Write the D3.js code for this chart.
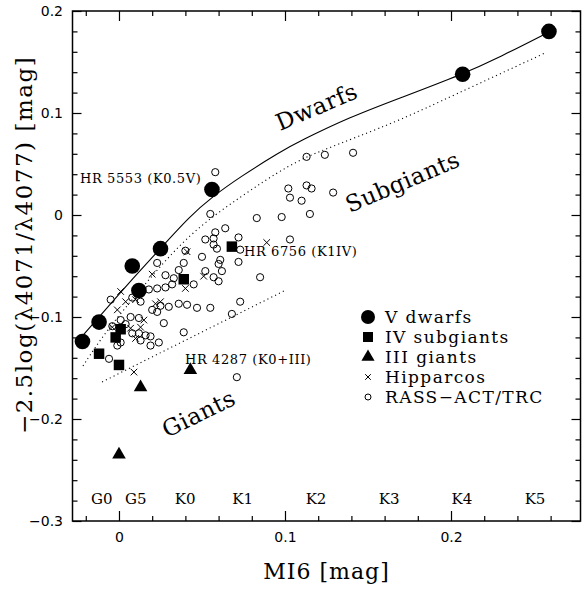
<!DOCTYPE html>
<html><head><meta charset="utf-8">
<script src="https://cdn.jsdelivr.net/npm/d3@7"></script>
<style>body{margin:0;background:#fff}svg{display:block}</style>
</head><body><svg id="c" width="582" height="590"></svg>
<script>
// ---- data ----
const dwarfX = [-0.022, -0.012, 0.008, 0.012, 0.025, 0.056, 0.207, 0.259];
const dwarfY = [-0.124, -0.105, -0.050, -0.074, -0.033, 0.025, 0.138, 0.180];
const subgiantX = [0.068, 0.039, 0.001, -0.002, -0.012, 0.000];
const subgiantY = [-0.031, -0.063, -0.112, -0.120, -0.136, -0.147];
const giantX = [0.043, 0.013, 0.000];
const giantY = [-0.152, -0.169, -0.235];
const hipX = [0.089, 0.020, 0.041, 0.051, 0.040, 0.025, 0.022, 0.001, 0.004, -0.001, 0.010, 0.015, 0.007, 0.010, 0.009, 0.013, -0.004];
const hipY = [-0.027, -0.058, -0.036, -0.060, -0.072, -0.085, -0.087, -0.075, -0.085, -0.093, -0.083, -0.103, -0.111, -0.121, -0.154, -0.110, -0.110];
const rassX = [0.058, 0.113, 0.124, 0.141, 0.102, 0.113, 0.116, 0.103, 0.110, 0.115, 0.129, 0.098, 0.083, 0.103, 0.085, 0.071, 0.073, 0.068, 0.072, 0.073,
  0.055, 0.064, 0.058, 0.052, 0.057, 0.057, 0.059, 0.040, 0.050, 0.023, 0.039, 0.061, 0.060, 0.072, 0.052, 0.062, 0.036, 0.057, 0.060, 0.028,
  0.033, 0.032, 0.028, 0.023, 0.018, -0.005, 0.008, 0.013, 0.025, 0.020, 0.030, 0.036, 0.041, 0.047, 0.055, 0.007, 0.001, 0.012, 0.004, -0.004,
  0.027, 0.008, 0.012, 0.016, 0.019, 0.013, 0.019, -0.001, 0.001, 0.024, 0.039, -0.006, 0.045, 0.023];
const rassY = [0.042, 0.057, 0.059, 0.061, 0.026, 0.029, 0.026, 0.017, 0.014, 0.001, 0.022, -0.002, -0.003, -0.024, -0.061, -0.159, -0.085, -0.097, -0.022, -0.034,
  0.001, -0.013, -0.017, -0.024, -0.023, -0.029, -0.033, -0.035, -0.041, -0.047, -0.047, -0.044, -0.048, -0.046, -0.055, -0.055, -0.054, -0.061, -0.065, -0.059,
  -0.062, -0.068, -0.071, -0.072, -0.073, -0.083, -0.081, -0.085, -0.089, -0.093, -0.090, -0.087, -0.088, -0.091, -0.091, -0.100, -0.103, -0.101, -0.107, -0.109,
  -0.106, -0.116, -0.116, -0.118, -0.119, -0.123, -0.128, -0.128, -0.125, -0.125, -0.115, -0.141, -0.068, -0.095];
// dwarf sequence (solid), subgiant boundary (dotted), giant boundary (dotted)
const dwarfLineX = [-0.0253, -0.0120, 0.0048, 0.0247, 0.0428, 0.0560, 0.0729, 0.0970, 0.1090, 0.1392, 0.1693, 0.2072, 0.2295, 0.2590];
const dwarfLineY = [-0.1245, -0.1000, -0.0686, -0.0333, -0.0010, 0.0176, 0.0373, 0.0618, 0.0725, 0.0961, 0.1147, 0.1382, 0.1549, 0.1794];
const subLineX = [-0.0217, -0.0078, 0.0127, 0.0416, 0.0729, 0.1030, 0.1229, 0.1434, 0.1693, 0.1994, 0.2566];
const subLineY = [-0.1480, -0.1137, -0.0735, -0.0186, 0.0176, 0.0500, 0.0637, 0.0765, 0.0931, 0.1157, 0.1588];
const giantLineX = [-0.0102, 0.1006];
const giantLineY = [-0.1637, -0.0735];
// spectral type labels
const specNames = ["G0", "G5", "K0", "K1", "K2", "K3", "K4", "K5"];
const specMI6 = [-0.0104, 0.0101, 0.0398, 0.0745, 0.1187, 0.1627, 0.2066, 0.2506];
// ticks
const xMajor = [0, 0.1, 0.2];
const yMajor = [-0.3, -0.2, -0.1, 0, 0.1, 0.2];
const legendLabels = ["V dwarfs", "IV subgiants", "III giants", "Hipparcos", "RASS\u2212ACT/TRC"];

// ---- chart ----
const svg = d3.select("#c");
const L = 72.5, R = 580.5, T = 11, B = 521;
const x = d3.scaleLinear().domain([-0.028, 0.278]).range([L, R]);
const y = d3.scaleLinear().domain([-0.3, 0.2]).range([B, T]);
const serif = "'DejaVu Serif', serif";
const sans = "'DejaVu Sans', sans-serif";
const fmt = v => Math.abs(v) < 1e-9 ? "0" : (v < 0 ? "\u2212" : "") + Math.abs(v).toFixed(1);
const xMinor = d3.range(-0.02, 0.2801, 0.02).filter(v => xMajor.every(m => Math.abs(m - v) > 1e-6));
const yMinor = d3.range(-0.3, 0.2001, 0.02).filter(v => yMajor.every(m => Math.abs(m - v) > 1e-6));

function ax(gen, tr, vals, size, labels) {
  const g = svg.append("g").attr("transform", tr)
    .call(gen.tickValues(vals).tickSizeInner(-size).tickSizeOuter(0).tickPadding(labels ? 11 : 0)
      .tickFormat(labels ? fmt : () => ""));
  g.select(".domain").remove();
  g.selectAll("line").attr("stroke", "#000").attr("stroke-width", 1.2);
  g.selectAll("text").attr("font-family", sans).attr("font-size", 14).attr("fill", "#000");
  return g;
}
ax(d3.axisBottom(x), `translate(0,${B})`, xMajor, 10, true);
ax(d3.axisBottom(x), `translate(0,${B})`, xMinor, 5, false);
ax(d3.axisTop(x), `translate(0,${T})`, xMajor, 10, false);
ax(d3.axisTop(x), `translate(0,${T})`, xMinor, 5, false);
const yl = ax(d3.axisLeft(y), `translate(${L},0)`, yMajor, 9, true);
yl.selectAll("text").attr("x", -9.5);
ax(d3.axisLeft(y), `translate(${L},0)`, yMinor, 5, false);
ax(d3.axisRight(y), `translate(${R},0)`, yMajor, 9, false);
ax(d3.axisRight(y), `translate(${R},0)`, yMinor, 5, false);

svg.append("rect").attr("x", L).attr("y", T).attr("width", R - L).attr("height", B - T)
  .attr("fill", "none").attr("stroke", "#000").attr("stroke-width", 1.5);

// lines
const lineGen = d3.line().x(d => x(d[0])).y(d => y(d[1]));
svg.append("path").datum(d3.zip(dwarfLineX, dwarfLineY))
  .attr("d", lineGen.curve(d3.curveBasis)).attr("fill", "none").attr("stroke", "#000").attr("stroke-width", 1.1);
svg.append("path").datum(d3.zip(subLineX, subLineY))
  .attr("d", lineGen.curve(d3.curveBasis)).attr("fill", "none").attr("stroke", "#000")
  .attr("stroke-width", 1.1).attr("stroke-dasharray", "1.1,3.2");
svg.append("path").datum(d3.zip(giantLineX, giantLineY))
  .attr("d", lineGen.curve(d3.curveLinear)).attr("fill", "none").attr("stroke", "#000")
  .attr("stroke-width", 1.1).attr("stroke-dasharray", "1.1,3.2");

// symbols
const crossPath = s => `M${-s},${-s}L${s},${s}M${-s},${s}L${s},${-s}`;
svg.append("g").selectAll("circle").data(d3.zip(rassX, rassY)).join("circle")
  .attr("cx", d => x(d[0])).attr("cy", d => y(d[1])).attr("r", 3.6)
  .attr("fill", "none").attr("stroke", "#000").attr("stroke-width", 1);
svg.append("g").selectAll("path").data(d3.zip(hipX, hipY)).join("path")
  .attr("transform", d => `translate(${x(d[0])},${y(d[1])})`).attr("d", crossPath(3.3))
  .attr("stroke", "#000").attr("stroke-width", 1);
svg.append("g").selectAll("circle").data(d3.zip(dwarfX, dwarfY)).join("circle")
  .attr("cx", d => x(d[0])).attr("cy", d => y(d[1])).attr("r", 7.8).attr("fill", "#000");
svg.append("g").selectAll("path").data(d3.zip(subgiantX, subgiantY)).join("path")
  .attr("transform", d => `translate(${x(d[0])},${y(d[1])})`)
  .attr("d", d3.symbol(d3.symbolSquare, 110)()).attr("fill", "#000");
svg.append("g").selectAll("path").data(d3.zip(giantX, giantY)).join("path")
  .attr("transform", d => `translate(${x(d[0])},${y(d[1])})`)
  .attr("d", d3.symbol(d3.symbolTriangle, 80)()).attr("fill", "#000");

// spectral types
svg.append("g").selectAll("text").data(d3.zip(specNames, specMI6)).join("text")
  .attr("x", d => x(d[1])).attr("y", y(-0.2835)).attr("text-anchor", "middle")
  .attr("font-family", serif).attr("font-size", 15).text(d => d[0]);

// annotations
function label(t, xv, yv, size, rot, ls) {
  const px = x(xv), py = y(yv);
  svg.append("text").attr("x", px).attr("y", py)
    .attr("transform", rot ? `rotate(${rot},${px},${py})` : null)
    .attr("font-family", serif).attr("font-size", size).attr("letter-spacing", ls || 0).text(t);
}
label("HR 5553 (K0.5V)", -0.0235, 0.0314, 13, 0, 0.6);
label("HR 6756 (K1IV)", 0.0753, -0.0402, 13, 0, 0.6);
label("HR 4287 (K0+III)", 0.0398, -0.1461, 13, 0, 0.6);
label("Dwarfs", 0.097, 0.0824, 23, -23, 0.5);
label("Subgiants", 0.139, 0.002, 23, -23, 0.5);
label("Giants", 0.0289, -0.2186, 23, -26, 0.5);

// legend
const lg = svg.append("g");
const lx = 368, ly0 = 317, ldy = 20;
lg.append("circle").attr("cx", lx).attr("cy", ly0).attr("r", 7).attr("fill", "#000");
lg.append("path").attr("transform", `translate(${lx},${ly0 + ldy})`).attr("d", d3.symbol(d3.symbolSquare, 100)()).attr("fill", "#000");
lg.append("path").attr("transform", `translate(${lx},${ly0 + 2 * ldy})`).attr("d", d3.symbol(d3.symbolTriangle, 75)()).attr("fill", "#000");
lg.append("path").attr("transform", `translate(${lx},${ly0 + 3 * ldy})`).attr("d", crossPath(2.8)).attr("stroke", "#000");
lg.append("circle").attr("cx", lx).attr("cy", ly0 + 4 * ldy).attr("r", 3).attr("fill", "none").attr("stroke", "#000");
lg.selectAll("text").data(legendLabels).join("text")
  .attr("x", lx + 17).attr("y", (d, i) => ly0 + i * ldy + 6)
  .attr("font-family", serif).attr("font-size", 17).attr("letter-spacing", 1.4).text(d => d);

// axis titles
svg.append("text").attr("x", (L + R) / 2).attr("y", 579).attr("text-anchor", "middle")
  .attr("font-family", serif).attr("font-size", 22).attr("letter-spacing", 1).text("MI6 [mag]");
svg.append("text").attr("transform", `translate(32,${245}) rotate(-90)`).attr("text-anchor", "middle")
  .attr("font-family", serif).attr("font-size", 23).attr("letter-spacing", 1.5)
  .text("\u22122.5log(\u03bb4071/\u03bb4077) [mag]");
</script></body></html>
